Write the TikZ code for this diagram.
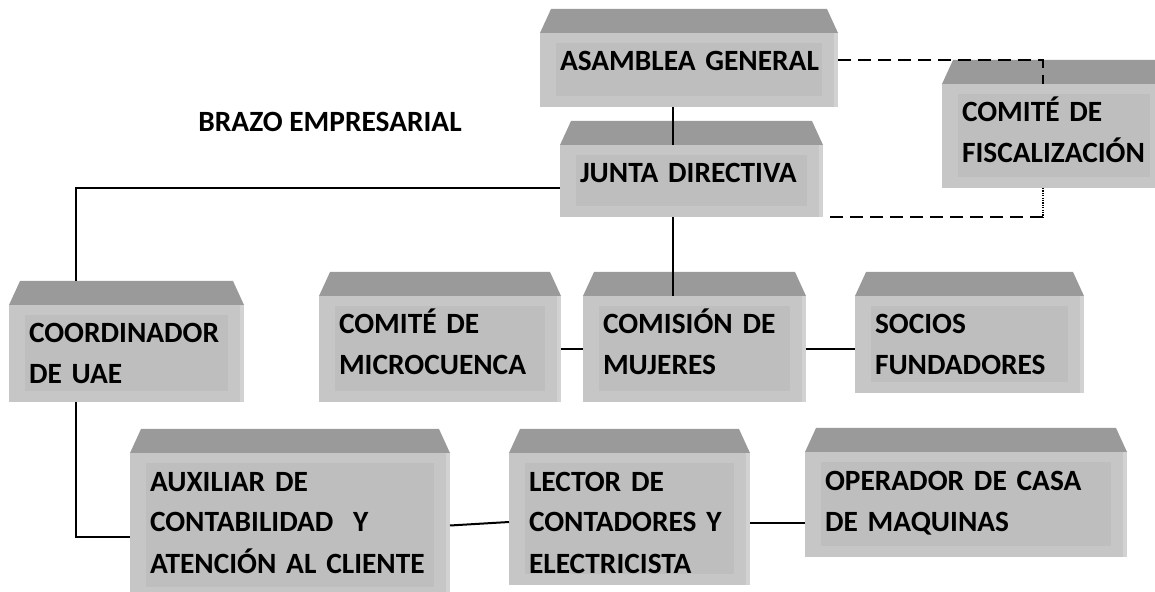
\documentclass[tikz,border=0pt]{standalone}
\usepackage{fontspec}
\setmainfont{Carlito}
\usepackage{tikz}
\hyphenpenalty=10000

\definecolor{techo}{HTML}{9A9A9A}
\definecolor{frente}{HTML}{C6C6C6}
\definecolor{interior}{HTML}{BEBEBE}
\definecolor{lado}{HTML}{D2D2D2}

\newcommand{\caja}[6]{%
  \pgfmathsetmacro\anchocaja{(#4-#2)*0.5}
  \pgfmathsetmacro\altocaja{(#5-#3)*0.5}
  \node[cara, minimum width=\anchocaja pt, minimum height=\altocaja pt, anchor=north west] (#1) at (#2,#3) {};
  \fill[techo] (#1.north west) -- ++(11,-24) -- ([xshift=-5.5pt,yshift=12pt]#1.north east) -- (#1.north east) -- cycle;
  \fill[lado] ([xshift=-2pt]#1.north east) rectangle (#1.south east);
  \fill[interior] ([xshift=8pt,yshift=-5pt]#1.north west) rectangle ([xshift=-8pt,yshift=5.5pt]#1.south east);
  \path ([yshift=12pt]#1.north) coordinate(#1-techo);
  \node[rotulo, text width=\anchocaja pt, anchor=north west] at ([xshift=8pt,yshift=-5pt]#1.north west) {\rule{0pt}{14pt}#6};
}

\begin{document}
\begin{tikzpicture}[x=0.5pt,y=-0.5pt,
  cara/.style={fill=frente, inner sep=0pt, outer sep=0pt},
  rotulo/.style={inner xsep=2pt, inner ysep=0pt, outer sep=0pt, align=left,
    font=\fontsize{14.7pt}{20.5pt}\selectfont\bfseries},
  enlace/.style={line width=1pt},
  discontinua/.style={line width=1pt, dash pattern=on 6.5pt off 3.5pt},
  punteada/.style={line width=1pt, dash pattern=on 0.6pt off 0.6pt}]
\useasboundingbox (0,0) rectangle (1155,592);
\clip (0,0) rectangle (1155,592);

\path (673,0) coordinate(eje);
\path (76,0) coordinate(rama);
\path (1043,0) coordinate(punto);

\caja{asamblea}{540}{33}{838}{107}{ASAMBLEA GENERAL}
\caja{junta}{560}{145}{823}{217}{JUNTA DIRECTIVA}
\caja{fiscal}{942}{84}{1166}{188}{COMITÉ DE\\FISCALIZACIÓN}
\caja{coordinador}{9}{305}{244}{402}{COORDINADOR\\DE UAE}
\caja{microcuenca}{319}{296}{561}{402}{COMITÉ DE\\MICROCUENCA}
\caja{comision}{583}{296}{806}{402}{COMISIÓN DE\\MUJERES}
\caja{socios}{855}{296}{1084}{393}{SOCIOS\\FUNDADORES}
\caja{auxiliar}{130}{453}{450}{598}{AUXILIAR DE\\CONTABILIDAD\ \ Y\\ATENCIÓN AL CLIENTE}
\caja{lector}{509}{453}{750}{585}{LECTOR DE\\CONTADORES Y\\ELECTRICISTA}
\caja{operador}{805}{452}{1127}{557}{OPERADOR DE CASA\\DE MAQUINAS}

\node[anchor=base west, inner sep=0pt, font=\fontsize{14.7pt}{20.5pt}\selectfont\bfseries] (brazo) at (198,132) {BRAZO EMPRESARIAL};

\draw[enlace] (asamblea.south -| eje) -- (junta.north -| eje);
\draw[enlace] (junta.south -| eje) -- (comision.north -| eje);
\draw[enlace] ([yshift=-3.5pt]junta.west) -| (coordinador-techo -| rama);
\draw[enlace] (coordinador.south -| rama) |- ([yshift=-5.5pt]auxiliar.west);
\draw[enlace] (microcuenca.east) -- (comision.west);
\draw[enlace] (comision.east) -- (comision.east -| socios.west);
\draw[enlace] (auxiliar.east) -- ([yshift=-1.5pt]lector.west);
\draw[enlace] ([yshift=-2pt]lector.east) -- ([yshift=-2pt]lector.east -| operador.west);

\draw[discontinua] ([yshift=5pt]asamblea.east) -| (fiscal.north -| punto);
\draw[punteada] (fiscal.south -| punto) -- (junta.south east -| punto);
\draw[discontinua] (junta.south east -| punto) -- (junta.south east);
\end{tikzpicture}
\end{document}
